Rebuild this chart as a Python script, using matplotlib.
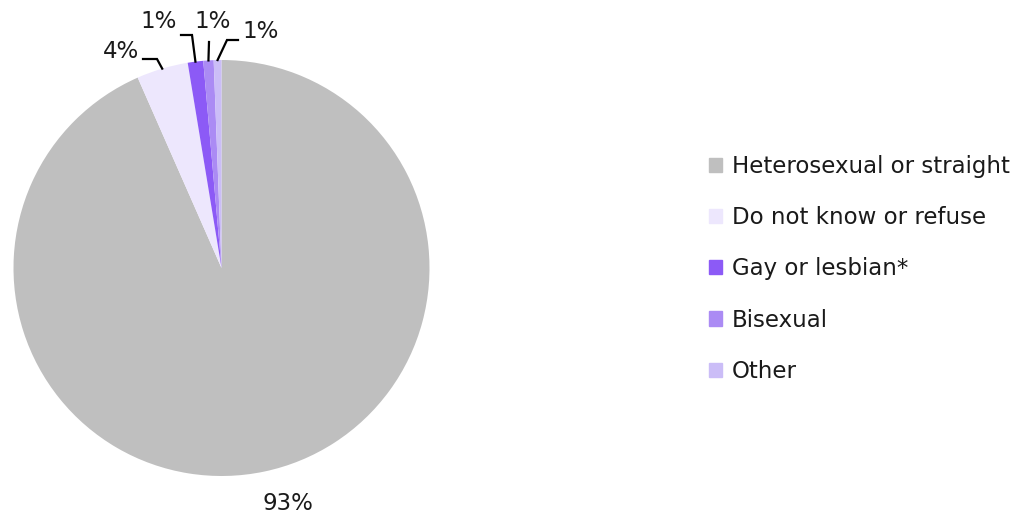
import numpy as np
import matplotlib.pyplot as plt

plt.rcParams['font.family'] = ['DejaVu Sans']

categories = ['Heterosexual or straight', 'Do not know or refuse',
              'Gay or lesbian*', 'Bisexual', 'Other']
shares = [93.4, 4.0, 1.2, 0.8, 0.6]
colors = ['#bfbfbf', '#ede7fd', '#8c5af6', '#ab8bf4', '#cbbdf7']

W, H = 1031, 517
fig = plt.figure(figsize=(W / 100, H / 100), dpi=100)

# pie centre (221.5, 268) px, radius 208 px
cx, cy, R = 221.5, 268, 208
ax = fig.add_axes([(cx - R) / W, (H - cy - R) / H, 2 * R / W, 2 * R / H])
wedges, _ = ax.pie(shares, colors=colors, startangle=90, counterclock=False,
                   radius=1, wedgeprops=dict(linewidth=0))
ax.set_xlim(-1, 1)
ax.set_ylim(-1, 1)
ax.set_aspect('equal')
ax.axis('off')


def px(x, y):
    # pixel offsets (y down) from pie centre -> data coords
    return (x - cx) / R, (cy - y) / R


# label layout for each slice: elbow, end of horizontal run, text pos, alignment
label_layout = [
    None,
    dict(elbow=(157, 59), end=(143, 59), text=(139, 52), ha='right'),
    dict(elbow=(192, 35), end=(181, 35), text=(177, 22), ha='right'),
    dict(elbow=(209, 42), end=(209, 42), text=(213, 22), ha='center'),
    dict(elbow=(227, 40), end=(238, 40), text=(242, 32), ha='left'),
]

for w, val, lay in zip(wedges, shares, label_layout):
    txt = '%.0f%%' % val
    if lay is None:
        x, y = px(288, 503)
        ax.text(x, y, txt, ha='center', va='center', fontsize=16.5,
                color='#1a1a1a', clip_on=False)
        continue
    mid = np.deg2rad((w.theta1 + w.theta2) / 2)
    ax_pt = (np.cos(mid), np.sin(mid))
    ex, ey = px(*lay['elbow'])
    hx, hy = px(*lay['end'])
    ax.plot([ax_pt[0], ex, hx], [ax_pt[1], ey, hy], color='black', lw=1.6,
            clip_on=False, solid_joinstyle='miter')
    tx, ty = px(*lay['text'])
    ax.text(tx, ty, txt, ha=lay['ha'], va='center', fontsize=16.5,
            color='#1a1a1a', clip_on=False)

handles = [plt.Rectangle((0, 0), 1, 1, color=c) for c in colors]
fig.legend(handles, categories, loc='upper left',
           bbox_to_anchor=(709 / W, 1 - 155 / H), frameon=False,
           fontsize=16.5, handlelength=0.57, handleheight=0.57,
           handletextpad=0.44, labelspacing=1.23, borderpad=0,
           borderaxespad=0, labelcolor='#1a1a1a')

fig.savefig('out.png', dpi=100)
